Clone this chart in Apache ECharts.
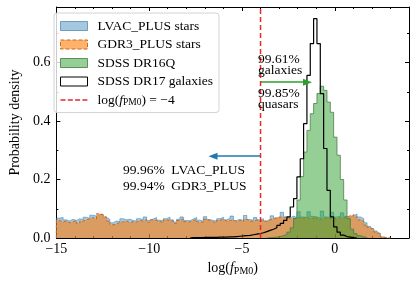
<!DOCTYPE html>
<html><head><meta charset="utf-8">
<script src="https://cdn.jsdelivr.net/npm/echarts@6/dist/echarts.min.js"></script>
<style>html,body{margin:0;padding:0;background:#fff}#c{width:416px;height:282px}</style>
</head><body><div id="c"></div>
<script>
// histogram bins: 100 bins of width 0.18 starting at -15
const binMin = -15, binWidth = 0.18;
const lvacStars = [
0.068,0.070,0.062,0.058,0.064,0.060,0.066,0.063,0.071,0.067,
0.078,0.075,0.080,0.082,0.070,0.064,0.052,0.058,0.056,0.066,
0.062,0.064,0.060,0.058,0.066,0.063,0.072,0.060,0.065,0.070,
0.061,0.058,0.066,0.071,0.062,0.055,0.064,0.072,0.060,0.059,
0.065,0.070,0.061,0.057,0.073,0.063,0.060,0.058,0.066,0.071,
0.062,0.068,0.075,0.060,0.064,0.059,0.077,0.063,0.061,0.070,
0.062,0.066,0.058,0.064,0.076,0.067,0.070,0.088,0.072,0.069,
0.075,0.070,0.090,0.072,0.070,0.090,0.074,0.072,0.068,0.092,
0.072,0.070,0.088,0.072,0.074,0.086,0.074,0.072,0.076,0.082,
0.072,0.066,0.052,0.040,0.032,0.024,0.016,0.004,0.000,0.000];
const gdr3Stars = [
0.060,0.055,0.058,0.052,0.056,0.060,0.050,0.058,0.062,0.066,
0.070,0.064,0.083,0.078,0.072,0.058,0.045,0.048,0.054,0.055,
0.058,0.052,0.056,0.054,0.060,0.058,0.063,0.054,0.062,0.060,
0.057,0.052,0.062,0.060,0.058,0.050,0.060,0.065,0.056,0.055,
0.060,0.062,0.055,0.054,0.064,0.060,0.055,0.052,0.061,0.063,
0.058,0.060,0.062,0.056,0.060,0.055,0.064,0.058,0.057,0.062,
0.058,0.060,0.056,0.062,0.066,0.070,0.072,0.070,0.072,0.066,
0.068,0.066,0.070,0.068,0.072,0.066,0.068,0.072,0.064,0.066,
0.070,0.066,0.068,0.064,0.070,0.068,0.072,0.076,0.080,0.072,
0.062,0.058,0.044,0.036,0.030,0.020,0.014,0.003,0.000,0.000];
const galaxyFirstBin = 40;
const dr17Galaxies = [
0.001,0.001,0.001,0.001,0.002,0.002,0.002,0.002,0.003,0.003,
0.003,0.004,0.004,0.005,0.006,0.007,0.008,0.009,0.011,0.013,
0.015,0.018,0.022,0.026,0.030,0.035,0.043,0.050,0.060,0.072,
0.106,0.135,0.209,0.271,0.391,0.556,0.665,0.750,0.665,0.494,
0.306,0.163,0.072,0.038,0.020,0.010,0.005,0.003,0.001,0.000];
const quasarFirstBin = 63;
const dr16Quasars = [
0.001,0.002,0.003,0.005,0.008,0.012,0.020,0.035,0.067,0.130,
0.210,0.294,0.368,0.425,0.460,0.494,0.519,0.505,0.465,0.430,
0.345,0.283,0.200,0.130,0.066,0.030,0.015,0.008,0.004,0.002];
const pmCut = -4;
const xTickValues = [-15, -10, -5, 0];
const yTickValues = [0.0, 0.2, 0.4, 0.6];
const xRange = [-15, 4], yRange = [0, 0.79];

function stepData(first, vals) {
  const pts = [[binMin + first * binWidth, 0]];
  vals.forEach((v, i) => pts.push([binMin + (first + i) * binWidth, v]));
  pts.push([binMin + (first + vals.length) * binWidth, 0]);
  return pts;
}

const SERIF = 'Liberation Serif, DejaVu Serif, serif';
const cutName = 'log(fPM0) = −4';
const chart = echarts.init(document.getElementById('c'), null, {renderer: 'canvas'});

function xAx(pos, interval, len, labels) {
  return {
    type: 'value', position: pos, min: xRange[0], max: xRange[1], interval: interval,
    axisLine: {show: interval === 5, onZero: false, lineStyle: {color: '#000', width: 1}},
    axisTick: {show: true, inside: true, length: len, lineStyle: {color: '#000', width: 1}},
    axisLabel: {show: labels, margin: 4, fontFamily: SERIF, fontSize: 14, color: '#000',
      formatter: v => xTickValues.some(t => Math.abs(t - v) < 1e-9) ? String(v).replace('-', '−') : ''},
    splitLine: {show: false},
    name: labels ? '{n|log(}{i|f}{s|PM0}{n|)}' : '', nameLocation: 'middle', nameGap: 20,
    nameTextStyle: {fontFamily: SERIF, fontSize: 14, color: '#000',
      rich: {n: {fontFamily: SERIF, fontSize: 14, color: '#000', lineHeight: 16},
             i: {fontFamily: SERIF, fontSize: 14, fontStyle: 'italic', color: '#000', lineHeight: 16},
             s: {fontFamily: SERIF, fontSize: 10, color: '#000', verticalAlign: 'bottom', lineHeight: 10}}}
  };
}
function yAx(pos, interval, len, labels) {
  return {
    type: 'value', position: pos, min: yRange[0], max: yRange[1], interval: interval,
    axisLine: {show: interval === 0.2, onZero: false, lineStyle: {color: '#000', width: 1}},
    axisTick: {show: true, inside: true, length: len, lineStyle: {color: '#000', width: 1}},
    axisLabel: {show: labels, margin: 6, fontFamily: SERIF, fontSize: 14, color: '#000',
      formatter: v => yTickValues.some(t => Math.abs(t - v) < 1e-9) ? v.toFixed(1) : ''},
    splitLine: {show: false},
    name: labels ? 'Probability density' : '', nameLocation: 'middle', nameGap: 28,
    nameTextStyle: {fontFamily: SERIF, fontSize: 14, color: '#000'}
  };
}

const legendRich = {
  n: {fontFamily: SERIF, fontSize: 13.5, color: '#000', lineHeight: 15},
  i: {fontFamily: SERIF, fontSize: 13.5, fontStyle: 'italic', color: '#000', lineHeight: 15},
  s: {fontFamily: SERIF, fontSize: 9.5, color: '#000', verticalAlign: 'bottom', lineHeight: 9}
};
// dashed-line legend icon (27 x 9 box, dashes in the middle)
const dashIcon = 'path://M0,0h0.01v0.01h-0.01z M27,9h-0.01v-0.01h0.01z ' +
  'M0,3.8h5v1.5h-5z M7.3,3.8h5v1.5h-5z M14.6,3.8h5v1.5h-5z M21.9,3.8h5v1.5h-5z';

const option = {
  animation: false,
  backgroundColor: '#fff',
  grid: {left: 48, right: 7, top: 7, bottom: 44, containLabel: false},
  xAxis: [xAx('bottom', 5, 4, true), xAx('bottom', 1, 2, false), xAx('top', 5, 4, false), xAx('top', 1, 2, false)],
  yAxis: [yAx('left', 0.2, 4, true), yAx('left', 0.1, 2, false), yAx('right', 0.2, 4, false), yAx('right', 0.1, 2, false)],
  legend: {
    orient: 'vertical', left: 54, top: 13, padding: [6, 6, 5, 6], itemGap: 4.5,
    itemWidth: 27, itemHeight: 9,
    borderColor: '#d4d4d4', borderWidth: 1, borderRadius: 3, backgroundColor: 'rgba(255,255,255,0.8)',
    textStyle: {fontFamily: SERIF, fontSize: 13.5, color: '#000', padding: [0, 0, 0, 5], rich: legendRich},
    formatter: name => name === cutName ? '{n|log(}{i|f}{s|PM0}{n|) = −4}' : '{n|' + name + '}',
    selectedMode: false,
    data: [
      {name: 'LVAC_PLUS stars', icon: 'rect', itemStyle: {color: '#a5c8e1', borderColor: '#6f9bbd', borderWidth: 1}},
      {name: 'GDR3_PLUS stars', icon: 'rect', itemStyle: {color: '#ffb26b', borderColor: '#c8691e', borderWidth: 1, borderType: 'dashed'}},
      {name: 'SDSS DR16Q', icon: 'rect', itemStyle: {color: '#95cf95', borderColor: '#5e8f5e', borderWidth: 1}},
      {name: 'SDSS DR17 galaxies', icon: 'rect', itemStyle: {color: '#ffffff', borderColor: '#000', borderWidth: 1}},
      {name: cutName, icon: dashIcon, itemStyle: {color: '#e8282b', borderWidth: 0}}
    ]
  },
  series: [
    {name: 'LVAC_PLUS stars', type: 'line', step: 'end', symbol: 'none', z: 1,
     data: stepData(0, lvacStars), xAxisIndex: 0, yAxisIndex: 0,
     itemStyle: {color: '#a5c8e1'},
     lineStyle: {color: 'rgba(31,119,180,0.5)', width: 1},
     areaStyle: {color: 'rgba(31,119,180,0.4)', opacity: 1}},
    {name: 'GDR3_PLUS stars', type: 'line', step: 'end', symbol: 'none', z: 2,
     data: stepData(0, gdr3Stars),
     itemStyle: {color: '#ffb26b'},
     lineStyle: {color: '#c8691e', width: 1, type: [3, 2]},
     areaStyle: {color: 'rgba(255,127,14,0.6)', opacity: 1}},
    {name: 'SDSS DR16Q', type: 'line', step: 'end', symbol: 'none', z: 3,
     data: stepData(quasarFirstBin, dr16Quasars),
     itemStyle: {color: '#95cf95'},
     lineStyle: {color: 'rgba(70,120,70,0.75)', width: 1},
     areaStyle: {color: 'rgba(44,160,44,0.5)', opacity: 1}},
    {name: 'SDSS DR17 galaxies', type: 'line', step: 'end', symbol: 'none', z: 4,
     data: stepData(galaxyFirstBin, dr17Galaxies),
     itemStyle: {color: '#000'},
     lineStyle: {color: '#000', width: 1.2}},
    {name: cutName, type: 'line', symbol: 'none', z: 5,
     data: [[pmCut, yRange[0]], [pmCut, yRange[1]]],
     itemStyle: {color: '#e8282b'},
     lineStyle: {color: '#e8282b', width: 1.5, type: [5, 3]},
     markLine: {
       silent: true, symbol: ['none', 'triangle'], symbolSize: [7, 9], label: {show: false},
       animation: false,
       data: [
         [{coord: [pmCut, 0.533], lineStyle: {color: '#2ca02c', width: 1.5, type: 'solid'}, itemStyle: {color: '#2ca02c'}},
          {coord: [-1.47, 0.533]}],
         [{coord: [pmCut, 0.28], lineStyle: {color: '#1f77b4', width: 1.5, type: 'solid'}, itemStyle: {color: '#1f77b4'}},
          {coord: [-6.56, 0.28]}]
       ]
     }}
  ]
};
chart.setOption(option);

function txt(x, y, s) {
  return {type: 'text', x: x, y: y, z: 100,
    style: {text: s, fontFamily: SERIF, fontSize: 13.5, fill: '#000', align: 'left', verticalAlign: 'middle'}};
}
chart.setOption({graphic: [
  txt(258, 59, '99.61%'),
  txt(258, 70, 'galaxies'),
  txt(258, 93.5, '99.85%'),
  txt(258, 104.5, 'quasars'),
  txt(123, 170, '99.96%  LVAC_PLUS'),
  txt(123, 186.5, '99.94%  GDR3_PLUS')
]});
</script></body></html>
